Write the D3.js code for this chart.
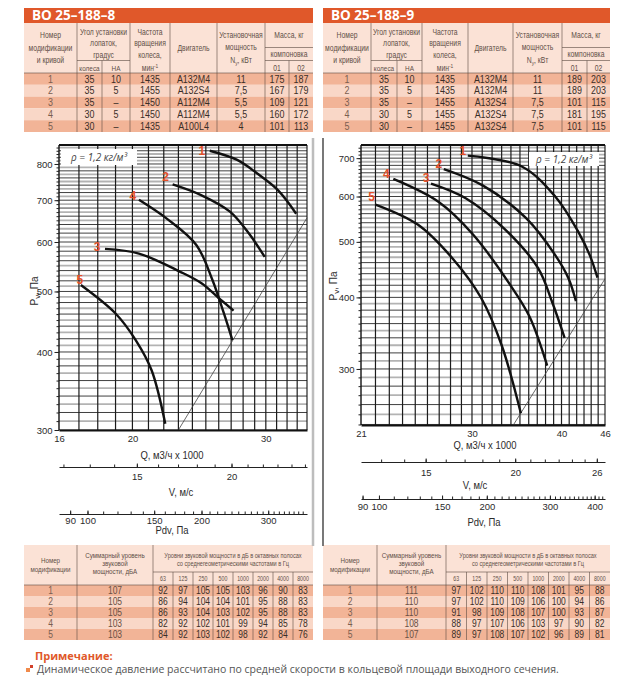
<!DOCTYPE html>
<html><head><meta charset="utf-8">
<script src="https://cdn.jsdelivr.net/npm/d3@7"></script>
<style>body{margin:0;background:#fff}svg{display:block}</style>
</head><body>
<script>
// ================= DATA =================
const title8 = "ВО 25–188–8";
const title9 = "ВО 25–188–9";
const specRows8 = [
  ["1","35","10","1435","А132М4","11","175","187"],
  ["2","35","5","1455","А132S4","7,5","167","179"],
  ["3","35","–","1450","А112М4","5,5","109","121"],
  ["4","30","5","1450","А112М4","5,5","160","172"],
  ["5","30","–","1435","А100L4","4","101","113"]
];
const specRows9 = [
  ["1","35","10","1435","А132М4","11","189","203"],
  ["2","35","5","1435","А132М4","11","189","203"],
  ["3","35","–","1455","А132S4","7,5","101","115"],
  ["4","30","5","1455","А132S4","7,5","181","195"],
  ["5","30","–","1455","А132S4","7,5","101","115"]
];
const octaveBands = ["63","125","250","500","1000","2000","4000","8000"];
const modNumbers = ["1","2","3","4","5"];
const soundTotal8 = [107,105,105,103,103];
const soundBands8 = [
  [92,97,105,105,103,96,90,83],
  [86,94,104,104,101,95,88,83],
  [86,93,104,103,102,95,88,83],
  [82,92,102,101,99,94,85,78],
  [84,92,103,102,98,92,84,76]
];
const soundTotal9 = [111,110,110,108,107];
const soundBands9 = [
  [97,102,110,110,108,101,95,88],
  [97,102,110,109,106,100,94,86],
  [91,98,109,108,107,100,93,87],
  [88,97,107,106,103,97,90,82],
  [89,97,108,107,102,96,89,81]
];
// fan curves: [Q (thousand m3/h), Pv (Pa)]
const fan8Curve1 = [[25.3,840],[27.5,812],[29.2,773],[31.1,727],[32.9,666]];
const fan8Curve2 = [[22.6,742],[24.6,714],[26.9,671],[28.5,619],[29.9,568]];
const fan8Curve3 = [[18.4,585],[20.4,575],[23.1,538],[24.7,515],[26.0,488],[27.2,466]];
const fan8Curve4 = [[20.4,701],[22.2,654],[24.3,593],[25.5,522],[26.4,462],[27.1,418]];
const fan8Curve5 = [[17.1,512],[19.0,461],[20.2,418],[21.2,374],[22.1,307]];
const fan8System = [[23.0,300],[34,656]];
const fan9Curve1 = [[29.6,707],[35.2,677],[39.2,600],[42.2,521],[43.8,474],[44.9,433]];
const fan9Curve2 = [[27.4,670],[31.0,628],[35.7,550],[39.2,474],[40.9,432],[41.9,394]];
const fan9Curve3 = [[26.3,632],[29.4,596],[33.3,527],[37.1,450],[38.8,393],[40.4,340]];
const fan9Curve4 = [[23.3,644],[26.9,588],[30.1,515],[33.9,421],[36.1,370],[38.2,304]];
const fan9Curve5 = [[22.0,581],[25.2,536],[28.3,465],[30.9,399],[33.0,330],[35.1,251]];
const fan9System = [[34.3,240],[46,431]];
const curveIds = ["1","2","3","4","5"];
const qTicks8 = [16,20,30], qTicks9 = [21,30,40,46];
const pTicks8 = [300,400,500,600,700,800], pTicks9 = [300,400,500,600,700];
const vTicks8 = [15,20], vTicks9 = [15,20,26];
const pdvTicks8 = [90,100,150,200,300], pdvTicks9 = [90,100,150,200,300,400];
const qDomain8 = [16,34], pDomain8 = [300,858];
const qDomain9 = [21,46], pDomain9 = [239.5,738];
const airDensity = 1.2;              // kg/m3
const outletArea8 = 0.3754, outletArea9 = 0.4787; // m2
const densityLabel = "ρ = 1,2 кг/м³";
const noteTitle = "Примечание:";
const noteText = "Динамическое давление рассчитано по средней скорости в кольцевой площади выходного сечения.";

// ================= STYLE =================
const SANS = "'Liberation Sans', Arial, sans-serif";
const OPEN = "'Open Sans','Noto Sans',sans-serif";
const C = {title:"#e0582a", head:"#fbe2d6", dark:"#f2b497", light:"#f9d7c7",
           line:"#5b4a42", headText:"#5f4f47", cell:"#3a2e28", accent:"#e4502a"};

const svg = d3.select("body").append("svg").attr("width",641).attr("height",678);

// text helper; narrow text is emulated by horizontal squeeze (sx)
function label(g,x,y,s,o={}){
  const sx = o.sx===undefined ? 0.8 : o.sx;
  return g.append("text").attr("transform",`translate(${x},${y}) scale(${sx},1)`)
    .attr("text-anchor",o.anchor||"middle")
    .attr("font-family",o.font||SANS).attr("font-size",o.size||8.5)
    .attr("fill",o.fill||C.headText).attr("font-weight",o.weight||400)
    .attr("font-style",o.style||"normal").text(s);
}
function ln(g,x1,y1,x2,y2,c,w){
  return g.append("line").attr("x1",x1).attr("y1",y1).attr("x2",x2).attr("y2",y2)
    .attr("stroke",c||C.line).attr("stroke-width",w||0.6);
}

// ================= TOP TABLES =================
function drawSpecTable(title, rows, L){
  const g = svg.append("g");
  const b=L.b, x0=b[0], x1=b[6];
  const yT=8, yH=23, yD=73, rh=11.8, yE=yD+rows.length*rh, ySub=60.5;
  g.append("rect").attr("x",x0).attr("y",yT).attr("width",x1-x0).attr("height",yH-yT).attr("fill",C.title);
  label(g,x0+8,yT+12.3,title,{anchor:"start",font:OPEN,size:13.5,weight:700,fill:"#fff",sx:1});
  g.append("rect").attr("x",x0).attr("y",yH).attr("width",x1-x0).attr("height",yD-yH).attr("fill",C.head);
  rows.forEach((r,i)=>g.append("rect").attr("x",x0).attr("y",yD+i*rh).attr("width",x1-x0)
    .attr("height",rh).attr("fill",i%2?C.light:C.dark));
  const e=[b[0],b[1],L.subA,b[2],b[3],b[4],b[5],L.subM,b[6]];
  rows.forEach((r,i)=>r.forEach((v,j)=>label(g,(e[j]+e[j+1])/2,yD+i*rh+rh/2+3.6,v,
    {size:10.5,fill:j===0?"#7a5e50":C.cell,sx:0.85})));
  [b[1],b[2],b[3],b[4],b[5]].forEach(xx=>ln(g,xx,yH,xx,yE));
  ln(g,L.subA,ySub,L.subA,yE); ln(g,L.subM,ySub,L.subM,yE);
  ln(g,b[1],ySub,b[2],ySub); ln(g,b[5],47.5,b[6],47.5); ln(g,b[5],ySub,b[6],ySub);
  ln(g,x0,yD,x1,yD);
  const m=(a,c)=>(a+c)/2;
  [["Номер",38],["модификации",50.5],["и кривой",63]].forEach(([s,y])=>label(g,m(b[0],b[1]),y,s));
  [["Угол установки",34.5],["лопаток,",46],["градус",57.5]].forEach(([s,y])=>label(g,m(b[1],b[2]),y,s));
  label(g,m(b[1],L.subA),70.5,"колеса",{size:8}); label(g,m(L.subA,b[2]),70.5,"НА",{size:8});
  [["Частота",34.5],["вращения",46],["колеса,",57.5]].forEach(([s,y])=>label(g,m(b[2],b[3]),y,s));
  const t=label(g,m(b[2],b[3]),70.5,"мин");
  t.append("tspan").attr("font-size",6).attr("dy",-3).text("-1");
  label(g,m(b[3],b[4]),51,"Двигатель");
  [["Установочная",38],["мощность",50]].forEach(([s,y])=>label(g,m(b[4],b[5]),y,s));
  const n=label(g,m(b[4],b[5]),62.5,"N");
  n.append("tspan").attr("font-size",6).attr("dy",2).text("у");
  n.append("tspan").attr("dy",-2).text(", кВт");
  label(g,m(b[5],b[6]),38,"Масса, кг");
  label(g,m(b[5],b[6]),57,"компоновка");
  label(g,m(b[5],L.subM),70.5,"01"); label(g,m(L.subM,b[6]),70.5,"02");
}
drawSpecTable(title8, specRows8, {b:[24,77,130,170,217,265,313], subA:102, subM:289});
drawSpecTable(title9, specRows9, {b:[323,371,422,468,513,562,610], subA:397, subM:587});

// ================= BOTTOM TABLES =================
function drawSoundTable(totals, bands, L){
  const g = svg.append("g");
  const b=L.b, yTop=545, ySub=572, yD=585, rh=11, yE=yD+totals.length*rh;
  g.append("rect").attr("x",b[0]).attr("y",yTop).attr("width",b[3]-b[0]).attr("height",yD-yTop).attr("fill",C.head);
  totals.forEach((v,i)=>g.append("rect").attr("x",b[0]).attr("y",yD+i*rh).attr("width",b[3]-b[0])
    .attr("height",rh).attr("fill",i%2?C.light:C.dark));
  const w=(b[3]-b[2])/octaveBands.length;
  const oe=d3.range(octaveBands.length+1).map(i=>b[2]+i*w);
  const m=(a,c)=>(a+c)/2;
  [["Номер",563],["модификации",571.5]].forEach(([s,y])=>label(g,m(b[0],b[1]),y,s,{size:7.8}));
  [["Суммарный уровень",557.5],["звуковой",565.5],["мощности, дБА",574]].forEach(([s,y])=>label(g,m(b[1],b[2]),y,s,{size:7.8}));
  [["Уровни звуковой мощности в дБ в октавных полосах",557.5],["со среднегеометрическими частотами в Гц",566]]
    .forEach(([s,y])=>label(g,m(b[2],b[3]),y,s,{size:7.5,sx:0.75}));
  octaveBands.forEach((s,j)=>label(g,m(oe[j],oe[j+1]),581,s,{size:7,sx:0.75}));
  totals.forEach((v,i)=>{
    const yy=yD+i*rh+rh/2+3.5;
    label(g,m(b[0],b[1]),yy,modNumbers[i],{size:10,fill:"#7a5e50",sx:0.85});
    label(g,m(b[1],b[2]),yy,String(v),{size:10,fill:"#6a5044",sx:0.85});
    bands[i].forEach((bv,j)=>label(g,m(oe[j],oe[j+1]),yy,String(bv),{size:10,fill:C.cell,sx:0.85}));
  });
  ln(g,b[1],yTop,b[1],yE); ln(g,b[2],yTop,b[2],yE);
  oe.slice(1,-1).forEach(xx=>ln(g,xx,ySub,xx,yE));
  ln(g,b[2],ySub,b[3],ySub); ln(g,b[0],yD,b[3],yD);
}
drawSoundTable(soundTotal8, soundBands8, {b:[24,77,153,313]});
drawSoundTable(soundTotal9, soundBands9, {b:[323,377,446,610]});

// ================= PANEL BORDERS =================
ln(svg,313,138,313,546,"#bdbdbd",2.5);
ln(svg,323,138,323,546,"#6a6a6a",1.8);

// ================= CHARTS =================
function styleAxis(sel,size){
  sel.selectAll("text").attr("font-family",SANS).attr("font-size",size||9.5).attr("fill","#2b2b2b");
  sel.selectAll("line").attr("stroke","#222");
}
function drawChart(c){
  const g = svg.append("g");
  const x = d3.scaleLog().domain(c.qDom).range(c.xr);
  const y = d3.scaleLog().domain(c.pDom).range(c.yr);
  const [X0,X1]=c.xr, [Yb,Yt]=c.yr;
  const hGrid = d3.range(Math.ceil(c.pDom[0]/10)*10, c.pDom[1], 10);
  g.append("g").selectAll("line").data(hGrid).join("line")
    .attr("x1",X0).attr("x2",X1).attr("y1",d=>y(d)).attr("y2",d=>y(d))
    .attr("stroke",d=>d%20===0?"#2a2a2a":"#b3b3b3").attr("stroke-width",d=>d%20===0?0.9:1.8);
  const vGrid = d3.range(c.qDom[0]+1, c.qDom[1], 1);
  g.append("g").selectAll("line").data(vGrid).join("line")
    .attr("x1",d=>x(d)).attr("x2",d=>x(d)).attr("y1",Yt).attr("y2",Yb)
    .attr("stroke","#1c1c1c").attr("stroke-width",1.2);
  ln(g,X0,Yt,X1,Yt,"#111",2.2);
  ln(g,X0,Yt,X0,Yb,"#111",1.4);
  ln(g,X1,Yt,X1,Yb,"#111",1.1);
  // system line
  ln(g,x(c.sys[0][0]),y(c.sys[0][1]),x(c.sys[1][0]),y(c.sys[1][1]),"#444",0.8);
  // curves
  const line = d3.line().x(d=>x(d[0])).y(d=>y(d[1])).curve(d3.curveCatmullRom.alpha(0.5));
  c.curves.forEach((pts,i)=>{
    g.append("path").attr("d",line(pts)).attr("fill","none").attr("stroke","#111").attr("stroke-width",2.4);
    const o=c.labelOff[i];
    label(g,x(pts[0][0])+o[0],y(pts[0][1])+o[1]+4,curveIds[i],{size:12,weight:700,fill:C.accent,sx:1});
  });
  // density label
  const bx=c.rho;
  g.append("rect").attr("x",bx[0]).attr("y",bx[1]).attr("width",bx[2]).attr("height",bx[3]).attr("fill","#fff");
  label(g,bx[0]+bx[2]/2,bx[1]+bx[3]/2+3.6,densityLabel,{font:OPEN,size:10,style:"italic",fill:"#444",sx:1});
  // y axis
  const ya=g.append("g").attr("transform",`translate(${X0},0)`)
    .call(d3.axisLeft(y).tickValues(hGrid).tickSize(2.5).tickSizeOuter(0).tickFormat(""));
  ya.select(".domain").remove(); styleAxis(ya);
  const yb=g.append("g").attr("transform",`translate(${X0},0)`)
    .call(d3.axisLeft(y).tickValues(c.pTicks).tickSize(4.5).tickSizeOuter(0).tickPadding(2).tickFormat(d3.format("d")));
  yb.select(".domain").remove(); styleAxis(yb);
  const yl=g.append("text").attr("transform",`translate(${c.yLab[0]},${c.yLab[1]}) rotate(-90)`)
    .attr("text-anchor","middle").attr("font-family",SANS).attr("font-size",10).attr("fill","#2b2b2b").text("P");
  yl.append("tspan").attr("font-size",8).attr("dy",1.5).text("v");
  yl.append("tspan").attr("dy",-1.5).text(", Па");
  // Q axis
  const xa=g.append("g").attr("transform",`translate(0,${Yb})`)
    .call(d3.axisBottom(x).tickValues(c.qTicks).tickSize(0).tickSizeOuter(0).tickPadding(5).tickFormat(d3.format("d")));
  xa.select(".domain").attr("stroke","#111").attr("stroke-width",2.2); styleAxis(xa);
  label(g,c.qLab[0],c.qLab[1],"Q, м3/ч x 1000",{size:10,fill:"#2b2b2b",sx:0.95});
  // V axis
  const vOf=q=>q*1000/3600/c.area;
  const vScale=d3.scaleLog().domain(c.qDom.map(vOf)).range(c.xr);
  const vMinor=d3.range(Math.ceil(vOf(c.qDom[0])),Math.floor(vOf(c.qDom[1]))+1);
  const va=g.append("g").attr("transform",`translate(0,${c.vY})`)
    .call(d3.axisBottom(vScale).tickValues(vMinor).tickSize(-2.5).tickSizeOuter(0).tickFormat(""));
  va.select(".domain").attr("stroke","#222").attr("stroke-width",1); styleAxis(va);
  const vb=g.append("g").attr("transform",`translate(0,${c.vY})`)
    .call(d3.axisBottom(vScale).tickValues(c.vTicks).tickSize(-3.5).tickSizeOuter(0).tickPadding(c.vPad).tickFormat(d3.format("d")));
  vb.select(".domain").remove(); styleAxis(vb);
  label(g,c.vLab[0],c.vLab[1],"V, м/с",{size:10,fill:"#2b2b2b",sx:0.95});
  // Pdv axis
  const pdvOf=q=>0.5*airDensity*vOf(q)*vOf(q);
  const pdvScale=d3.scaleLog().domain(c.qDom.map(pdvOf)).range(c.xr);
  const pMinor=d3.range(Math.ceil(pdvOf(c.qDom[0])/10)*10, pdvOf(c.qDom[1]), 10);
  const pa=g.append("g").attr("transform",`translate(0,${c.pdvY})`)
    .call(d3.axisBottom(pdvScale).tickValues(pMinor).tickSize(-2.5).tickSizeOuter(0).tickFormat(""));
  pa.select(".domain").attr("stroke","#222").attr("stroke-width",1); styleAxis(pa);
  const pb=g.append("g").attr("transform",`translate(0,${c.pdvY})`)
    .call(d3.axisBottom(pdvScale).tickValues(c.pdvTicks).tickSize(-3.5).tickSizeOuter(0).tickPadding(c.pdvPad).tickFormat(d3.format("d")));
  pb.select(".domain").remove(); styleAxis(pb);
  label(g,c.pdvLab[0],c.pdvLab[1],"Pdv, Па",{size:10,fill:"#2b2b2b",sx:0.95});
}

drawChart({
  qDom:qDomain8, pDom:pDomain8, xr:[59,307], yr:[430,145],
  curves:[fan8Curve1,fan8Curve2,fan8Curve3,fan8Curve4,fan8Curve5], sys:fan8System,
  labelOff:[[-8,0],[-7,-7],[-8,-2],[-6,-4],[-1,-5]],
  rho:[61,149,76,16], pTicks:pTicks8, qTicks:qTicks8, vTicks:vTicks8, pdvTicks:pdvTicks8,
  area:outletArea8, yLab:[38,291], qLab:[172,459], vY:467, vPad:6, vLab:[181,496],
  pdvY:514, pdvPad:3, pdvLab:[172,534]
});
drawChart({
  qDom:qDomain9, pDom:pDomain9, xr:[361,605], yr:[425,145],
  curves:[fan9Curve1,fan9Curve2,fan9Curve3,fan9Curve4,fan9Curve5], sys:fan9System,
  labelOff:[[-5,-5],[-5,-5],[-5,-6],[-7,-5],[-4,-8]],
  rho:[529,152,70,14], pTicks:pTicks9, qTicks:qTicks9, vTicks:vTicks9, pdvTicks:pdvTicks9,
  area:outletArea9, yLab:[337,286], qLab:[485,449], vY:462, vPad:7, vLab:[475,489],
  pdvY:499, pdvPad:4, pdvLab:[484,526]
});

// ================= NOTE =================
label(svg,35,659.5,noteTitle,{anchor:"start",font:OPEN,size:11,weight:700,fill:C.title,sx:1});
svg.append("rect").attr("x",26).attr("y",668).attr("width",4).attr("height",4).attr("fill","#f08a4b");
svg.append("rect").attr("x",30).attr("y",665).attr("width",3).attr("height",3).attr("fill","#d2402a");
label(svg,37,673,noteText,{anchor:"start",font:OPEN,size:10.5,fill:"#555",sx:1});
</script>
</body></html>
